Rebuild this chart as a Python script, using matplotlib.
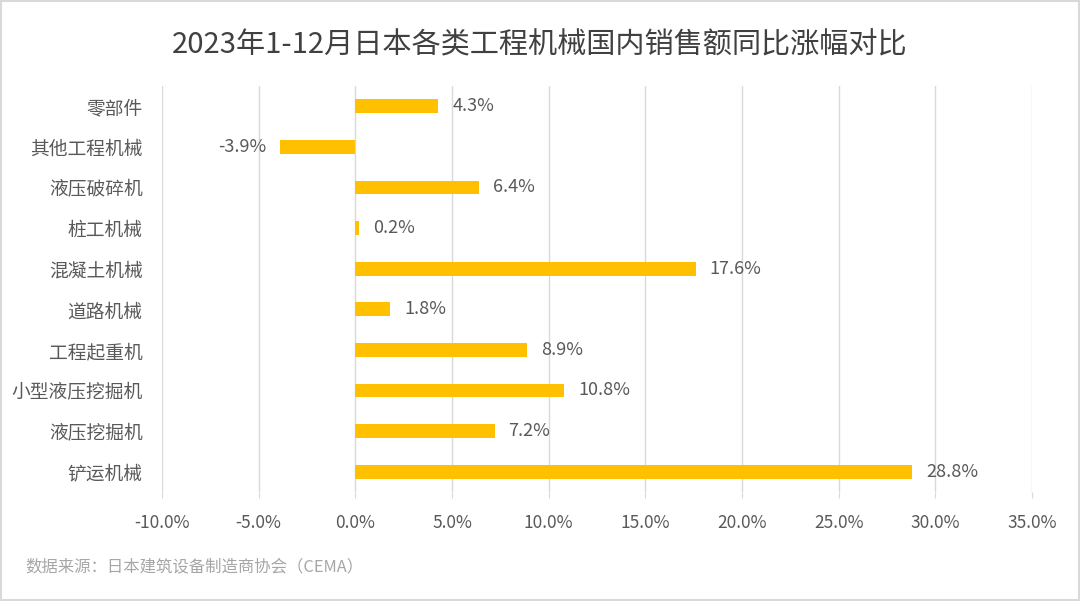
import matplotlib
matplotlib.use("Agg")
import matplotlib.pyplot as plt
from matplotlib.patches import Rectangle
from matplotlib.ticker import FuncFormatter, MultipleLocator

plt.rcParams['font.family'] = ['Noto Sans CJK SC', 'DejaVu Sans']

categories = ['零部件', '其他工程机械', '液压破碎机', '桩工机械', '混凝土机械',
              '道路机械', '工程起重机', '小型液压挖掘机', '液压挖掘机', '铲运机械']
values = [4.3, -3.9, 6.4, 0.2, 17.6, 1.8, 8.9, 10.8, 7.2, 28.8]
title = '2023年1-12月日本各类工程机械国内销售额同比涨幅对比'
source = '数据来源：日本建筑设备制造商协会（CEMA）'

fig = plt.figure(figsize=(10.8, 6.01), dpi=100)
ax = fig.add_axes([0.15, 0.1814, 0.8056, 0.6755])

y = list(range(len(categories)))
ax.barh(y, values, height=0.34, color='#FFC000', zorder=3)
ax.set_ylim(len(categories) - 0.5, -0.5)
ax.set_xlim(-10, 35)
ax.xaxis.set_major_locator(MultipleLocator(5))
ax.xaxis.set_major_formatter(FuncFormatter(lambda v, p: f'{v:.1f}%'))
ax.set_yticks(y)
ax.set_yticklabels(categories, fontsize=13.5, color='#595959')
ax.tick_params(axis='x', labelsize=12.5, labelcolor='#595959', length=4,
               color='#D9D9D9', direction='out', pad=12)
ax.tick_params(axis='y', length=0, pad=14)
ax.grid(axis='x', color='#D9D9D9', linewidth=1, zorder=0)
for s in ax.spines.values():
    s.set_visible(False)

for yi, v in zip(y, values):
    if v >= 0:
        ax.annotate(f'{v:.1f}%', (v, yi), xytext=(10, 0), textcoords='offset points',
                    ha='left', va='center', fontsize=13, color='#595959')
    else:
        ax.annotate(f'{v:.1f}%', (v, yi), xytext=(-10, 0), textcoords='offset points',
                    ha='right', va='center', fontsize=13, color='#595959')

fig.text(0.5, 0.925, title, ha='center', va='center', fontsize=21, color='#404040')
fig.text(0.023, 0.057, source, ha='left', va='center', fontsize=11.8, color='#A6A6A6')

fig.patches.append(Rectangle((0.001, 0.002), 0.998, 0.996, transform=fig.transFigure,
                             fill=False, edgecolor='#D9D9D9', linewidth=1.5))

fig.savefig('out.png', dpi=100)
